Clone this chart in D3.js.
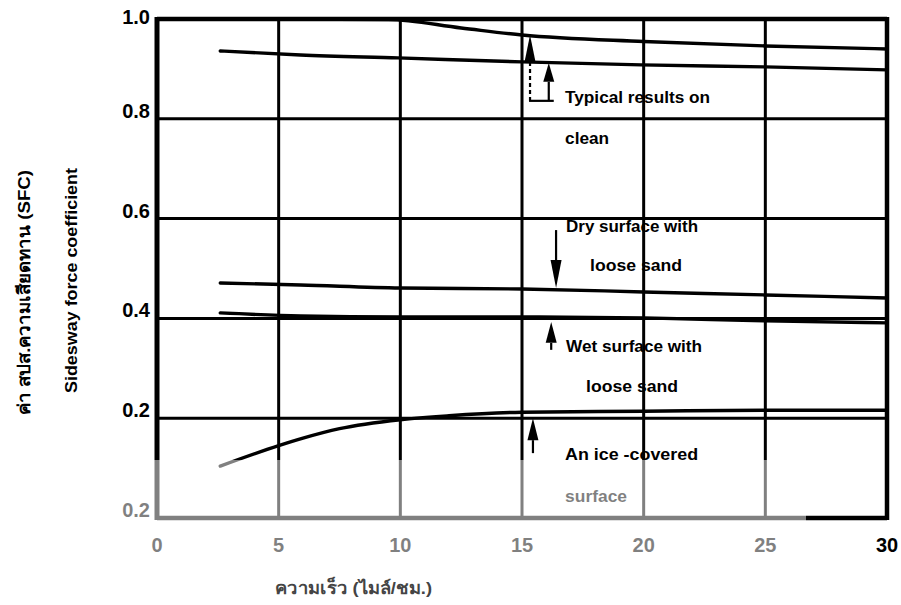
<!DOCTYPE html>
<html>
<head>
<meta charset="utf-8">
<script src="https://cdn.jsdelivr.net/npm/d3@7/dist/d3.min.js"></script>
<style>
  html, body { margin: 0; padding: 0; background: #fff; }
  svg { display: block; }
  text { font-family: "Liberation Sans", Arial, sans-serif; font-weight: bold; }
</style>
</head>
<body>
<svg id="chart" width="901" height="605"></svg>
<script>
// ---- data ----
const xTickValues = [0, 5, 10, 15, 20, 25, 30];
const xTickLabels = ["0", "5", "10", "15", "20", "25", "30"];
const yTickValues = [0, 0.2, 0.4, 0.6, 0.8, 1.0];
const yTickLabels = ["0.2", "0.2", "0.4", "0.6", "0.8", "1.0"];

const cleanUpperX = [2.7, 9.5, 12.5, 15, 20, 25, 30];
const cleanUpperY = [1.0, 0.999, 0.982, 0.968, 0.955, 0.946, 0.940];

const cleanLowerX = [2.6, 5.9, 9.9, 15, 19.9, 25, 30];
const cleanLowerY = [0.936, 0.928, 0.922, 0.914, 0.908, 0.904, 0.898];

const drySandX = [2.6, 5.9, 10, 15, 20, 25, 30];
const drySandY = [0.471, 0.467, 0.461, 0.459, 0.453, 0.447, 0.441];

const wetSandX = [2.6, 5.9, 10, 15, 20, 25, 30];
const wetSandY = [0.411, 0.405, 0.403, 0.403, 0.401, 0.395, 0.391];

const iceX = [2.6, 5, 6, 7.5, 10, 12, 15, 20, 25, 30];
const iceY = [0.104, 0.145, 0.160, 0.179, 0.197, 0.205, 0.212, 0.214, 0.216, 0.216];

const xTitle = "ความเร็ว (ไมล์/ชม.)";
const yTitleThai = "ค่า สปส.ความเสียดทาน (SFC)";
const yTitleEng = "Sidesway force coefficient";

// ---- layout ----
const svg = d3.select("#chart");
const x = d3.scaleLinear().domain([0, 30]).range([157, 887]);
const y = d3.scaleLinear().domain([0, 1]).range([518, 19]);

const g = svg.append("g");

// grid lines
g.selectAll("line.hgrid").data(yTickValues.filter(v => v > 0 && v < 1)).join("line")
  .attr("x1", x(0)).attr("x2", x(30))
  .attr("y1", d => y(d)).attr("y2", d => y(d))
  .attr("stroke", "#000").attr("stroke-width", 3);
g.selectAll("line.vgrid").data(xTickValues.filter(v => v > 0 && v < 30)).join("line")
  .attr("y1", y(0)).attr("y2", y(1))
  .attr("x1", d => x(d)).attr("x2", d => x(d))
  .attr("stroke", "#000").attr("stroke-width", 3);

// curves
const series = [
  [cleanUpperX, cleanUpperY],
  [cleanLowerX, cleanLowerY],
  [drySandX, drySandY],
  [wetSandX, wetSandY],
  [iceX, iceY]
];
const line = d3.line().x(d => x(d[0])).y(d => y(d[1])).curve(d3.curveMonotoneX);
series.forEach(([xs, ys]) => {
  g.append("path")
    .datum(xs.map((v, i) => [v, ys[i]]))
    .attr("d", line)
    .attr("fill", "none").attr("stroke", "#000").attr("stroke-width", 3.4)
    .attr("stroke-linecap", "round");
});

// frame
g.append("line").attr("x1", x(0)).attr("x2", x(30)).attr("y1", y(1)).attr("y2", y(1))
  .attr("stroke", "#000").attr("stroke-width", 4.5);
g.append("line").attr("x1", x(0)).attr("x2", x(30)).attr("y1", y(0)).attr("y2", y(0))
  .attr("stroke", "#000").attr("stroke-width", 4.5);
g.append("line").attr("x1", x(0)).attr("x2", x(0)).attr("y1", y(1) - 2).attr("y2", y(0) + 2)
  .attr("stroke", "#000").attr("stroke-width", 5);
g.append("line").attr("x1", x(30)).attr("x2", x(30)).attr("y1", y(1) - 2).attr("y2", y(0) + 2)
  .attr("stroke", "#000").attr("stroke-width", 4.5);

// tick labels
g.selectAll("text.ytick").data(yTickValues).join("text")
  .attr("x", 150).attr("y", (d, i) => y(d) + (d === 1 ? 5 : -1))
  .attr("text-anchor", "end").attr("font-size", 20).attr("fill", "#000")
  .text((d, i) => yTickLabels[i]);
g.selectAll("text.xtick").data(xTickValues).join("text")
  .attr("x", d => x(d)).attr("y", 552)
  .attr("text-anchor", "middle").attr("font-size", 20).attr("fill", "#000")
  .text((d, i) => xTickLabels[i]);

// arrows
function arrow(xv, tipV, baseV, endV, dashed) {
  const xp = x(xv), tip = y(tipV), base = y(baseV), end = y(endV);
  g.append("path")
    .attr("d", `M${xp},${tip} L${xp - 5.5},${base} L${xp + 5.5},${base} Z`)
    .attr("fill", "#000");
  g.append("line").attr("x1", xp).attr("x2", xp).attr("y1", base).attr("y2", end)
    .attr("stroke", "#000").attr("stroke-width", 2.2)
    .attr("stroke-dasharray", dashed ? "4,3" : null);
}
arrow(15.33, 0.968, 0.914, 0.836, true);
arrow(16.1, 0.912, 0.874, 0.836, false);
g.append("line").attr("x1", x(15.33) - 1).attr("x2", x(16.1) + 5)
  .attr("y1", y(0.836)).attr("y2", y(0.836))
  .attr("stroke", "#000").attr("stroke-width", 2.2);
arrow(16.4, 0.461, 0.517, 0.577, false);
arrow(16.2, 0.393, 0.351, 0.337, false);
arrow(15.45, 0.200, 0.156, 0.130, false);

// annotation labels
const notes = [
  ["Typical results on", 16.77, 0.832, 145],
  ["clean", 16.77, 0.75, 44],
  ["Dry surface with", 16.81, 0.573, 132],
  ["loose sand", 17.8, 0.495, 92],
  ["Wet surface with", 16.81, 0.332, 136],
  ["loose sand", 17.63, 0.253, 92],
  ["An ice -covered", 16.77, 0.116, 133],
  ["surface", 16.77, 0.032, 62]
];
g.selectAll("text.note").data(notes).join("text")
  .attr("x", d => x(d[1])).attr("y", d => y(d[2]))
  .attr("font-size", 16).attr("fill", "#000")
  .attr("textLength", d => d[3]).attr("lengthAdjust", "spacingAndGlyphs")
  .text(d => d[0]);

// axis titles
g.append("text").attr("transform", "translate(30,415) rotate(-90)")
  .attr("font-size", 17).attr("fill", "#000")
  .attr("textLength", 245).attr("lengthAdjust", "spacingAndGlyphs")
  .text(yTitleThai);
g.append("text").attr("transform", "translate(77,393) rotate(-90)")
  .attr("font-size", 16).attr("fill", "#000")
  .attr("textLength", 225).attr("lengthAdjust", "spacingAndGlyphs")
  .text(yTitleEng);

// faded (scan watermark) lower band
g.append("rect").attr("x", 0).attr("y", 460).attr("width", 806).attr("height", 100)
  .attr("fill", "#fff").attr("opacity", 0.5);

g.append("text").attr("x", 275).attr("y", 594)
  .attr("font-size", 17).attr("fill", "#444")
  .attr("textLength", 157).attr("lengthAdjust", "spacingAndGlyphs")
  .text(xTitle);
</script>
</body>
</html>
